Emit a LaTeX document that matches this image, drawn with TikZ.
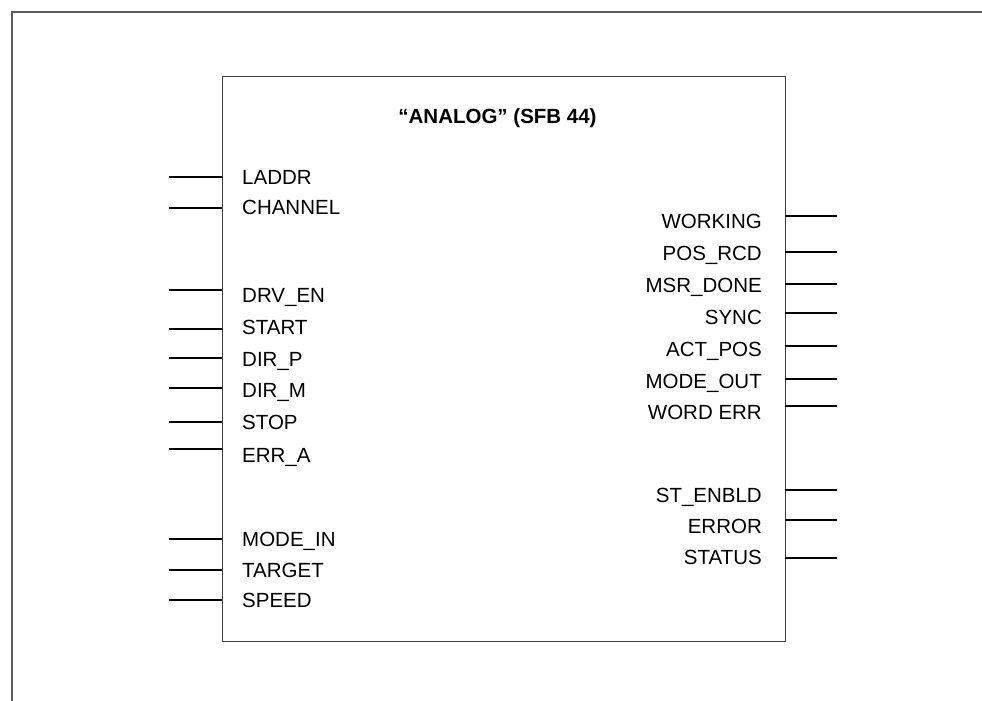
\documentclass[tikz,border=0pt]{standalone}
\usepackage{fontspec}
\setmainfont{Liberation Sans}
\begin{document}
\begin{tikzpicture}[x=1pt,y=-1pt,
  frameline/.style={draw=black!65,line width=1.3pt},
  boxline/.style={draw=black!75,line width=1.2pt},
  pin/.style={draw=black,line width=1.2pt},
  lbl/.style={inner sep=0pt,font=\fontsize{20.5}{24}\selectfont},
  ttl/.style={inner sep=0pt,font=\fontsize{20.5}{24}\selectfont\bfseries}]
\useasboundingbox (0,0) rectangle (982,701);
% outer frame
\coordinate (f0) at (12,701);
\coordinate (f1) at (12,12);
\coordinate (f2) at (982,12);
\draw[frameline] (f0) -- (f1) -- (f2);
% block
\node[boxline,minimum width=563pt,minimum height=565pt,inner sep=0pt,anchor=north west] (blk) at (222,76) {};
\node[ttl,anchor=base] (title) at (497.5,123) {“ANALOG” (SFB 44)};
% inputs
\foreach \n/\ly/\ty/\t in {a/177/184/LADDR, b/208/214/CHANNEL, c/290/302/DRV\_EN, d/329/334/START, e/358/366/DIR\_P, f/388/397/DIR\_M, g/422/429/STOP, h/449/462/ERR\_A, i/539/546/MODE\_IN, j/570/577/TARGET, k/600/607/SPEED}{
  \coordinate (in\n) at (169,\ly);
  \coordinate (inb\n) at (222,\ly);
  \draw[pin] (in\n) -- (inb\n);
  \node[lbl,anchor=base west] (inl\n) at (242,\ty) {\t};
}
% outputs
\foreach \n/\ly/\ty/\t in {a/216/228/WORKING, b/252/260/POS\_RCD, c/284/292/MSR\_DONE, d/313/324/SYNC, e/346/356/ACT\_POS, f/379/388/MODE\_OUT, g/406/419/WORD ERR, h/490/502/ST\_ENBLD, i/520/533/ERROR, j/558/564/STATUS}{
  \coordinate (outb\n) at (785,\ly);
  \coordinate (out\n) at (837,\ly);
  \draw[pin] (outb\n) -- (out\n);
  \node[lbl,anchor=base east] (outl\n) at (762,\ty) {\t};
}
\end{tikzpicture}
\end{document}
